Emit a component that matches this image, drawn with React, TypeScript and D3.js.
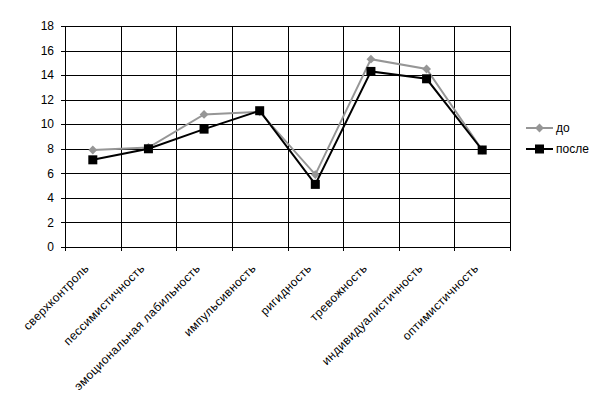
import { useEffect, useRef } from "react";
import * as d3 from "d3";

const categories = [
    "сверхконтроль",
    "пессимистичность",
    "эмоциональная лабильность",
    "импульсивность",
    "ригидность",
    "тревожность",
    "индивидуалистичность",
    "оптимистичность",
];
const before = [7.9, 8.1, 10.8, 11.0, 5.9, 15.3, 14.5, 7.9];
const after = [7.1, 8.0, 9.6, 11.1, 5.1, 14.3, 13.7, 7.9];
const yTicks = [0, 2, 4, 6, 8, 10, 12, 14, 16, 18];
const seriesNames = ["до", "после"];

export default function App() {
    const ref = useRef<SVGSVGElement>(null);

    useEffect(() => {
        if (!ref.current) return;
        const svg = d3.select(ref.current);
        svg.selectAll("*").remove();

        const left = 65, right = 510, top = 26, bottom = 247;
        const font = "'Liberation Sans', Arial, sans-serif";

        const x = d3.scaleBand().domain(categories).range([left, right]);
        const y = d3.scaleLinear().domain([0, 18]).range([bottom, top]);

        svg.append("rect").attr("width", 605).attr("height", 411).attr("fill", "#fff");

        // horizontal gridlines
        svg.append("g")
            .selectAll("line")
            .data(yTicks)
            .join("line")
            .attr("x1", left - 4)
            .attr("x2", right)
            .attr("y1", (d) => Math.round(y(d)) + 0.5)
            .attr("y2", (d) => Math.round(y(d)) + 0.5)
            .attr("stroke", "#000");

        // vertical gridlines / ticks
        const bounds = [...categories.map((c) => x(c)!), right];
        svg.append("g")
            .selectAll("line")
            .data(bounds)
            .join("line")
            .attr("x1", (d) => Math.round(d) + 0.5)
            .attr("x2", (d) => Math.round(d) + 0.5)
            .attr("y1", top)
            .attr("y2", bottom + 4)
            .attr("stroke", "#000");

        // y labels
        svg.append("g")
            .selectAll("text")
            .data(yTicks)
            .join("text")
            .attr("x", 54)
            .attr("y", (d) => y(d))
            .attr("dy", "0.35em")
            .attr("text-anchor", "end")
            .attr("font-family", font)
            .attr("font-size", 12)
            .text((d) => d);

        // x labels
        svg.append("g")
            .selectAll("text")
            .data(categories)
            .join("text")
            .attr("transform", (d) => `translate(${x(d)! + x.bandwidth() / 2 - 3},${bottom + 22}) rotate(-45)`)
            .attr("text-anchor", "end")
            .attr("font-family", font)
            .attr("font-size", 12)
            .attr("letter-spacing", 0.4)
            .text((d) => d);

        const cx = (i: number) => x(categories[i])! + x.bandwidth() / 2;
        const line = d3.line<number>().x((_, i) => cx(i)).y((d) => y(d));

        const diamond = d3.symbol().type(d3.symbolDiamond2).size(50);

        // до
        svg.append("path")
            .attr("d", line(before))
            .attr("fill", "none")
            .attr("stroke", "#969696")
            .attr("stroke-width", 2);
        svg.append("g")
            .selectAll("path")
            .data(before)
            .join("path")
            .attr("d", diamond()!)
            .attr("transform", (d, i) => `translate(${cx(i)},${y(d)})`)
            .attr("fill", "#969696");

        // после
        svg.append("path")
            .attr("d", line(after))
            .attr("fill", "none")
            .attr("stroke", "#000")
            .attr("stroke-width", 2);
        svg.append("g")
            .selectAll("rect")
            .data(after)
            .join("rect")
            .attr("x", (d, i) => cx(i) - 4.5)
            .attr("y", (d) => y(d) - 4.5)
            .attr("width", 9)
            .attr("height", 9)
            .attr("fill", "#000");

        // legend
        const lg = svg.append("g").attr("font-family", font).attr("font-size", 12);
        const ly = [128, 149];
        seriesNames.forEach((name, i) => {
            const color = i === 0 ? "#969696" : "#000";
            lg.append("line")
                .attr("x1", 526)
                .attr("x2", 553)
                .attr("y1", ly[i])
                .attr("y2", ly[i])
                .attr("stroke", color)
                .attr("stroke-width", 2);
            if (i === 0) {
                lg.append("path").attr("d", diamond()!).attr("transform", `translate(539.5,${ly[i]})`).attr("fill", color);
            } else {
                lg.append("rect").attr("x", 535).attr("y", ly[i] - 4.5).attr("width", 9).attr("height", 9).attr("fill", color);
            }
            lg.append("text").attr("x", 556).attr("y", ly[i]).attr("dy", "0.35em").text(name);
        });
    }, []);

    return (
        <div style={{ margin: -8 }}>
            <svg ref={ref} width={605} height={411} style={{ display: "block" }} />
        </div>
    );
}
